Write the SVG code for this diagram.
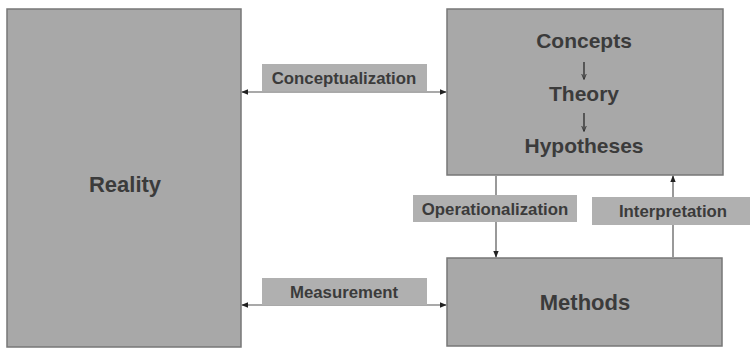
<svg xmlns="http://www.w3.org/2000/svg" width="751" height="349" viewBox="0 0 751 349">
<style>
.box{fill:#a8a8a8;stroke:#777;stroke-width:1.5}
.lbl{fill:#b0b0b0}
.t{font-family:"Liberation Sans",Arial,sans-serif;font-weight:bold;fill:#3b3b3b;text-anchor:middle}
.big{font-size:21px}
.sm{font-size:16.8px}
.ln{stroke:#555;stroke-width:1.2;fill:none}
.in{stroke:#333;stroke-width:1.4;fill:none}
</style>
<defs>
<marker id="ah" viewBox="0 0 10 10" refX="9" refY="5" markerWidth="7" markerHeight="7" orient="auto-start-reverse" markerUnits="userSpaceOnUse">
<path d="M0,1 L10,5 L0,9 z" fill="#222"/>
</marker>
<marker id="ah2" viewBox="0 0 10 10" refX="9" refY="5" markerWidth="6" markerHeight="6" orient="auto" markerUnits="userSpaceOnUse">
<path d="M0,1 L10,5 L0,9" fill="none" stroke="#333" stroke-width="1.5"/>
</marker>
</defs>
<rect width="751" height="349" fill="#fff"/>
<g id="reality">
<rect class="box" x="7" y="9" width="234" height="338"/>
<text class="t" style="font-size:22px" x="125" y="192">Reality</text>
</g>
<g id="concepts">
<rect class="box" x="447" y="9" width="276" height="166"/>
<text class="t big" x="584" y="48">Concepts</text>
<line class="in" x1="584" y1="62" x2="584" y2="79" marker-end="url(#ah2)"/>
<text class="t big" x="584" y="101">Theory</text>
<line class="in" x1="584" y1="113" x2="584" y2="131" marker-end="url(#ah2)"/>
<text class="t big" x="584" y="153">Hypotheses</text>
</g>
<g id="methods">
<rect class="box" x="447" y="258" width="275" height="88"/>
<text class="t" style="font-size:22px" x="585" y="310">Methods</text>
</g>
<g id="connectors">
<line class="ln" x1="242" y1="92" x2="446" y2="92" marker-start="url(#ah)" marker-end="url(#ah)"/>
<line class="ln" x1="242" y1="305" x2="446" y2="305" marker-start="url(#ah)" marker-end="url(#ah)"/>
<line class="ln" x1="496" y1="176" x2="496" y2="257" marker-end="url(#ah)"/>
<line class="ln" x1="673" y1="257" x2="673" y2="176" marker-end="url(#ah)"/>
</g>
<g id="label-conceptualization">
<rect class="lbl" x="262" y="64" width="165" height="27"/>
<text class="t sm" x="344" y="84">Conceptualization</text>
</g>
<g id="label-measurement">
<rect class="lbl" x="262" y="278" width="165" height="27"/>
<text class="t sm" x="344" y="298">Measurement</text>
</g>
<g id="label-operationalization">
<rect class="lbl" x="413" y="195" width="164" height="27"/>
<text class="t sm" x="495" y="215">Operationalization</text>
</g>
<g id="label-interpretation">
<rect class="lbl" x="592" y="197" width="158" height="28"/>
<text class="t sm" x="673" y="217">Interpretation</text>
</g>
</svg>
